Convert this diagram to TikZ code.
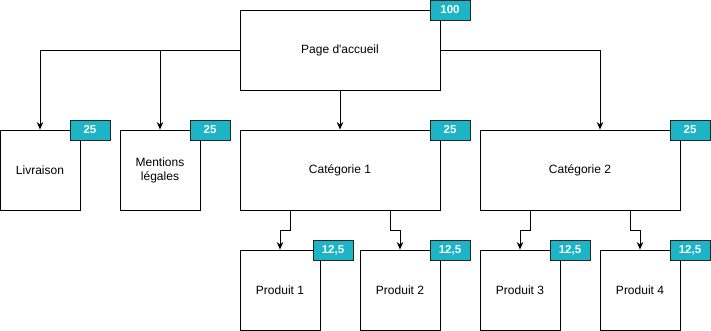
\documentclass[tikz,border=0pt]{standalone}
\usepackage{fontspec}
\setmainfont{Liberation Sans}
\usetikzlibrary{arrows.meta}
\definecolor{badgeteal}{HTML}{1DB4C6}
\tikzset{
  page/.style={draw=black, line width=0.9pt, fill=white, inner sep=0pt, align=center, font=\fontsize{12}{14}\selectfont},
  badge/.style={draw=black!85, line width=0.9pt, fill=badgeteal, inner sep=0pt, minimum width=40pt, minimum height=20pt, text=white, font=\bfseries\fontsize{11.5}{13}\selectfont},
  link/.style={draw=black, line width=0.9pt, -{Stealth[length=7.5pt,width=6.5pt]}}
}
\begin{document}
\begin{tikzpicture}[x=1pt,y=-1pt]
\useasboundingbox (0,0) rectangle (711,331);
% pages
\node[page, minimum width=200pt, minimum height=80pt] (home) at (340,50) {Page d\textquotesingle accueil};
\node[page, minimum width=80pt, minimum height=80pt] (liv) at (40,170) {Livraison};
\node[page, minimum width=80pt, minimum height=80pt] (ment) at (160,170) {Mentions\\légales};
\node[page, minimum width=200pt, minimum height=80pt] (cat1) at (340,170) {Catégorie 1};
\node[page, minimum width=200pt, minimum height=80pt] (cat2) at (580,170) {Catégorie 2};
\node[page, minimum width=80pt, minimum height=80pt] (p1) at (280,290) {Produit 1};
\node[page, minimum width=80pt, minimum height=80pt] (p2) at (400,290) {Produit 2};
\node[page, minimum width=80pt, minimum height=80pt] (p3) at (520,290) {Produit 3};
\node[page, minimum width=80pt, minimum height=80pt] (p4) at (640,290) {Produit 4};
% badges
\node[badge] (bhome) at (450,10) {100};
\node[badge] (bliv) at (90,130) {25};
\node[badge] (bment) at (210,130) {25};
\node[badge] (bcat1) at (450,130) {25};
\node[badge] (bcat2) at (690,130) {25};
\node[badge] (bp1) at (333,250) {12,5};
\node[badge] (bp2) at (450,250) {12,5};
\node[badge] (bp3) at (570,250) {12,5};
\node[badge] (bp4) at (690,250) {12,5};
% connectors
\draw[link] (home.west) -| (liv.north);
\draw[link] (home.west) -| (ment.north);
\draw[link] (home.south) -- (cat1.north);
\draw[link] (home.east) -| ([xshift=20pt]cat2.north);
\draw[link] ([xshift=-50pt]cat1.south) -- ++(0,20) -| (p1.north);
\draw[link] ([xshift=50pt]cat1.south) -- ++(0,20) -| (p2.north);
\draw[link] ([xshift=-50pt]cat2.south) -- ++(0,20) -| (p3.north);
\draw[link] ([xshift=50pt]cat2.south) -- ++(0,20) -| (p4.north);
\end{tikzpicture}
\end{document}
